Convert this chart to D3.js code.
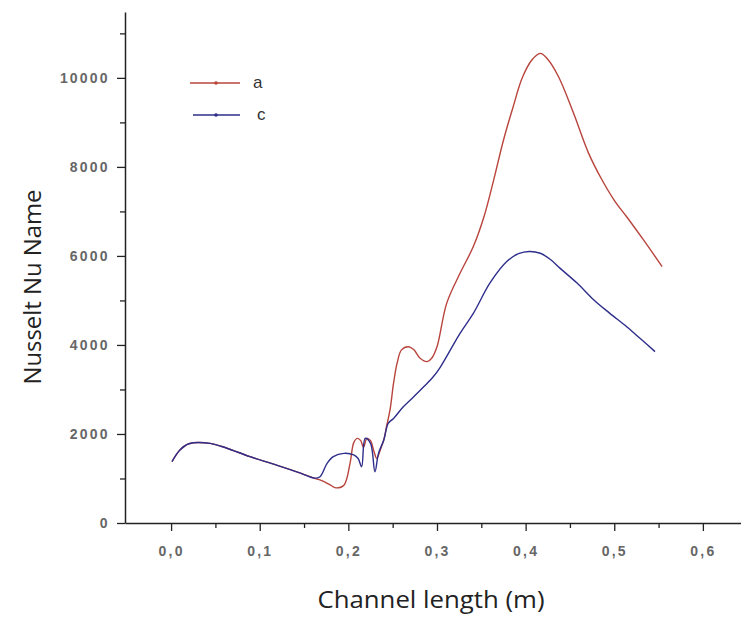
<!DOCTYPE html>
<html>
<head>
  <meta charset="utf-8">
  <script src="https://cdn.jsdelivr.net/npm/d3@7"></script>
  <style>
    body { margin: 0; background: #fff; }
    svg { display: block; }
  </style>
</head>
<body>
<script>
  // series a (red)
  const aX = [0.001, 0.010, 0.020, 0.044, 0.063, 0.089, 0.119, 0.146, 0.161, 0.170, 0.179, 0.186, 0.195, 0.202, 0.206, 0.210, 0.214, 0.217, 0.221, 0.225, 0.229, 0.232, 0.236, 0.240, 0.243, 0.247, 0.251, 0.255, 0.260, 0.268, 0.274, 0.281, 0.289, 0.294, 0.300, 0.311, 0.326, 0.341, 0.353, 0.364, 0.375, 0.386, 0.396, 0.407, 0.4165, 0.424, 0.437, 0.454, 0.471, 0.485, 0.500, 0.514, 0.533, 0.554];
  const aY = [1380, 1640, 1780, 1790, 1680, 1490, 1300, 1120, 1010, 950, 860, 790, 850, 1350, 1800, 1900, 1850, 1700, 1900, 1850, 1600, 1450, 1640, 1870, 2160, 2540, 3140, 3590, 3890, 3960, 3890, 3700, 3625, 3700, 3960, 4940, 5610, 6210, 6880, 7710, 8600, 9355, 9990, 10400, 10550, 10440, 10030, 9210, 8310, 7750, 7250, 6880, 6360, 5760];

  // series c (blue)
  const cX = [0.001, 0.010, 0.020, 0.044, 0.063, 0.089, 0.119, 0.146, 0.161, 0.168, 0.176, 0.183, 0.195, 0.206, 0.211, 0.215, 0.219, 0.225, 0.230, 0.234, 0.240, 0.245, 0.251, 0.262, 0.274, 0.285, 0.296, 0.304, 0.326, 0.341, 0.360, 0.379, 0.392, 0.404, 0.4165, 0.428, 0.439, 0.458, 0.477, 0.495, 0.514, 0.529, 0.546];
  const cY = [1380, 1640, 1780, 1790, 1680, 1490, 1300, 1120, 1010, 1040, 1340, 1490, 1565, 1530, 1450, 1265, 1900, 1790, 1150, 1565, 1865, 2240, 2350, 2610, 2840, 3060, 3290, 3510, 4260, 4710, 5400, 5880, 6050, 6100, 6060, 5920, 5720, 5390, 5010, 4710, 4410, 4150, 3850];

  const xTicks = [0, 0.1, 0.2, 0.3, 0.4, 0.5, 0.6];
  const yTicks = [0, 2000, 4000, 6000, 8000, 10000];
  const seriesNames = ["a", "c"];
  const seriesColors = ["#b8443c", "#2e2e8c"];

  const W = 741, H = 619;
  const svg = d3.select("body").append("svg").attr("width", W).attr("height", H);

  // axis origin at (125, 523)
  const x = d3.scaleLinear().domain([-0.052, 0.643]).range([125, 741]);
  const y = d3.scaleLinear().domain([0, 11480]).range([523, 12]);

  const line = d3.line().x(d => x(d[0])).y(d => y(d[1])).curve(d3.curveCatmullRom.alpha(0.5));

  // x axis
  const xAxis = svg.append("g").attr("transform", "translate(0,523)")
    .call(d3.axisBottom(x).tickValues(xTicks).tickSize(8).tickSizeOuter(0)
      .tickFormat(d => d3.format(".1f")(d).replace(".", ",")));
  svg.append("g").attr("transform", "translate(0,523)")
    .call(d3.axisBottom(x).tickValues(d3.range(0.05, 0.65, 0.1)).tickSize(5).tickFormat("").tickSizeOuter(0))
    .select(".domain").remove();

  // y axis
  const yAxis = svg.append("g").attr("transform", "translate(125,0)")
    .call(d3.axisLeft(y).tickValues(yTicks).tickSize(8).tickSizeOuter(0).tickFormat(d3.format("d")));
  svg.append("g").attr("transform", "translate(125,0)")
    .call(d3.axisLeft(y).tickValues([1000, 3000, 5000, 7000, 9000, 11000]).tickSize(5).tickFormat("").tickSizeOuter(0))
    .select(".domain").remove();

  svg.selectAll(".domain").attr("stroke", "#222").attr("stroke-width", 1.5);
  svg.selectAll(".tick line").attr("stroke", "#222").attr("stroke-width", 1.3);
  svg.selectAll(".tick text")
    .attr("font-family", "Liberation Sans, Arial, sans-serif")
    .attr("font-size", 14).attr("font-weight", "bold")
    .attr("letter-spacing", 2.2).attr("fill", "#666");
  xAxis.selectAll(".tick text").attr("dy", "1.6em");
  yAxis.selectAll(".tick text").attr("dx", "-0.3em");

  // lines
  const series = [d3.zip(aX, aY), d3.zip(cX, cY)];
  svg.selectAll("path.series").data(series).enter().append("path")
    .attr("class", "series")
    .attr("d", line)
    .attr("fill", "none")
    .attr("stroke", (d, i) => seriesColors[i])
    .attr("stroke-width", 1.4)
    .attr("stroke-linejoin", "round");

  // legend
  const leg = svg.selectAll("g.leg").data(seriesNames).enter().append("g")
    .attr("class", "leg")
    .attr("transform", (d, i) => `translate(0,${83 + i * 32})`);
  leg.append("line").attr("x1", (d, i) => i ? 193 : 190).attr("x2", 240)
    .attr("stroke", (d, i) => seriesColors[i]).attr("stroke-width", 1.4);
  leg.append("circle").attr("cx", 216).attr("r", 1.8).attr("fill", (d, i) => seriesColors[i]);
  leg.append("text").attr("x", (d, i) => i ? 257 : 253).attr("y", 5)
    .attr("font-family", "Liberation Sans, Arial, sans-serif").attr("font-size", 17)
    .attr("fill", "#333").text(d => d);

  // axis titles
  svg.append("text").attr("x", 431).attr("y", 608).attr("text-anchor", "middle")
    .attr("font-family", "Open Sans, sans-serif").attr("font-size", 24).attr("fill", "#222")
    .attr("textLength", 227).attr("lengthAdjust", "spacingAndGlyphs")
    .text("Channel length (m)");
  svg.append("text").attr("transform", "translate(41,287) rotate(-90)").attr("text-anchor", "middle")
    .attr("font-family", "Open Sans, sans-serif").attr("font-size", 24).attr("fill", "#222")
    .attr("textLength", 195).attr("lengthAdjust", "spacingAndGlyphs")
    .text("Nusselt Nu Name");
</script>
</body>
</html>
